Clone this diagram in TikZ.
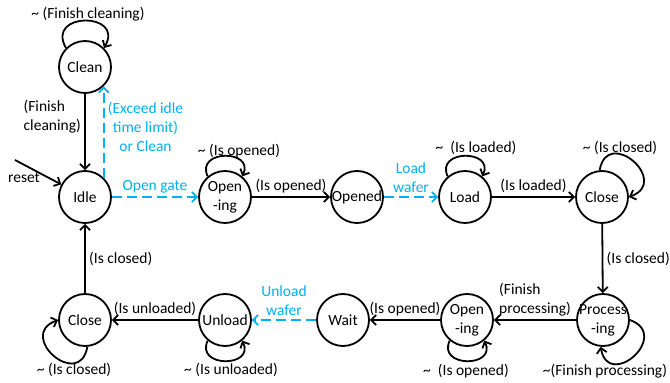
\documentclass[tikz,border=0pt]{standalone}
\usepackage{fontspec}
\setmainfont{Carlito}
\usetikzlibrary{arrows.meta,positioning}
\definecolor{ctrlblue}{RGB}{0,176,240}

\begin{document}
\begin{tikzpicture}[x=1pt,y=1pt,
    font=\fontsize{15.5}{19}\selectfont,
    >={Straight Barb[length=5pt,width=10pt]},
    state/.style={draw,circle,line width=1.8pt,minimum size=52pt,inner sep=-5pt,align=center},
    trans/.style={->,line width=1.8pt},
    ctrl/.style={->,line width=1.8pt,ctrlblue,dash pattern=on 10pt off 5pt}]
      \useasboundingbox (0,0) rectangle (670,383);
      % states, top row
      \node[state] (clean) at (85,316) {Clean};
      \node[state] (idle) at (85,186) {Idle};
      \node[state] (opening) at (225,186) {Open\\-ing};
      \node[state] (opened) at (357,186) {Opened};
      \node[state] (load) at (465,186) {Load};
      \node[state] (closeA) at (602,186) {Close};
      % states, bottom row
      \node[state] (process) at (603,63) {Process\\-ing};
      \node[state] (openingB) at (467,63) {Open\\-ing};
      \node[state] (wait) at (343,63) {Wait};
      \node[state] (unload) at (225,63) {Unload};
      \node[state] (closeB) at (85,63) {Close};
      % reset entry
      \coordinate (rst) at (15,223);
      \node (resetlbl) at (24,205) {reset};
      \draw[trans] (rst) -- (idle);
      % transitions
      \draw[trans] (clean) -- node[left,align=left,pos=0.3] {(Finish\\cleaning)} (idle);
      \draw[ctrl] (idle.46) -- node[right,align=center,pos=0.56] {(Exceed idle\\time limit)\\or Clean} (clean.-46);
      \draw[ctrl] (idle) -- node[above] {Open gate} (opening);
      \draw[trans] (opening) -- node[above] {(Is opened)} (opened);
      \draw[ctrl] (opened) -- node[above,align=center] {Load\\wafer} (load);
      \draw[trans] (load) -- node[above] {(Is loaded)} (closeA);
      \draw[trans] (closeA) -- node[right] {(Is closed)} (process);
      \draw[trans] (process) -- node[above,align=left] {(Finish\\processing)} (openingB);
      \draw[trans] (openingB) -- node[above] {(Is opened)} (wait);
      \draw[ctrl] (wait) -- node[above,align=center] {Unload\\wafer} (unload);
      \draw[trans] (unload) -- node[above] {(Is unloaded)} (closeB);
      \draw[trans] (closeB) -- node[right] {(Is closed)} (idle);
      % self loops
      \draw[trans] (clean.135) .. controls +(120:42pt) and +(60:42pt) .. (clean.45);
      \draw[trans] (opening.130) .. controls +(115:30pt) and +(65:30pt) .. (opening.50);
      \draw[trans] (load.130) .. controls +(115:30pt) and +(65:30pt) .. (load.50);
      \draw[trans] (closeA.95) .. controls +(80:45pt) and +(20:45pt) .. (closeA.0);
      \draw[trans] (process.0) .. controls +(-20:45pt) and +(-80:45pt) .. (process.-95);
      \draw[trans] (openingB.-130) .. controls +(-115:30pt) and +(-65:30pt) .. (openingB.-50);
      \draw[trans] (unload.-130) .. controls +(-115:30pt) and +(-65:30pt) .. (unload.-50);
      \draw[trans] (closeB.-85) .. controls +(-100:45pt) and +(200:45pt) .. (closeB.180);
      % loop labels
      \node (cleanloop) at (88,369) {\textasciitilde\ (Finish cleaning)};
      \node (openloop) at (239,232) {\textasciitilde\ (Is opened)};
      \node (loadloop) at (476,235) {\textasciitilde\ \ (Is loaded)};
      \node (closeloop) at (620,235) {\textasciitilde\ (Is closed)};
      \node (procloop) at (605,12) {\textasciitilde(Finish processing)};
      \node (openBloop) at (466,12) {\textasciitilde\ \ (Is opened)};
      \node (unloadloop) at (231,13) {\textasciitilde\ (Is unloaded)};
      \node (closeBloop) at (74,13) {\textasciitilde\ (Is closed)};
\end{tikzpicture}
\end{document}
